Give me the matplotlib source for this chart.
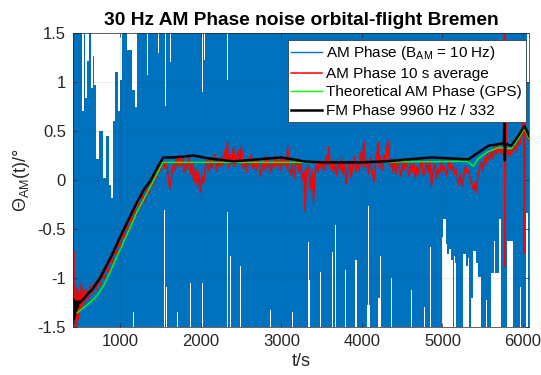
import matplotlib
matplotlib.use("Agg")
import matplotlib.pyplot as plt

# blue AM phase (B_AM = 10 Hz): upper / lower envelope of the noise band
blue_hi_t = [415, 527, 545, 565, 585, 615, 635, 660, 680, 700, 740, 790, 830, 860, 880,
             905, 930, 970, 995, 1020, 1090, 1150, 1185, 1210, 1330, 1345, 1470, 1480,
             1555, 1570, 1620, 1632, 2015, 2030, 2045, 2055, 2325, 2340, 6055, 6075]
blue_hi = [1.5, 0.70, 1.5, 0.84, 1.21, 1.5, 0.94, 1.27, 0.97, 0.21, 0.50, 0.02, 0.45, -0.05, -0.18,
           0.60, 1.10, 0.70, 1.02, 1.5, 1.33, 0.92, 0.74, 1.5, 1.07, 1.5, 1.30, 1.5,
           0.76, 1.5, 1.20, 1.5, 0.90, 1.5, 1.22, 1.5, 1.02, 1.5, 1.00, 1.00]

blue_lo_t = [415, 1160, 1172, 1545, 1557, 1568, 1580, 1705, 1715, 1868, 1880, 2016, 2028,
             2327, 2340, 2365, 2377, 2490, 2502, 2865, 2875, 3135, 3145, 3335, 3345, 3360,
             3485, 3497, 3633, 3645, 3672, 3684, 3785, 3797, 3920, 3935, 4060, 4075, 4085,
             4095, 4205, 4230, 4240, 4355, 4370, 4430, 4440, 4505, 4515, 4605, 4617, 4680,
             4690, 4718, 4727, 4770, 4780, 4843, 4852, 4998, 5010, 5040, 5060, 5075, 5085,
             5110, 5130, 5140, 5160, 5170, 5258, 5290, 5320, 5335, 5360, 5375, 5382, 5420,
             5445, 5482, 5540, 5555, 5607, 5640, 5655, 5700, 5730, 5806, 5880, 5965, 5975,
             6042, 6067, 6075]
blue_lo = [-1.5, -1.35, -1.5, -0.31, -1.5, -1.09, -1.5, -1.35, -1.5, -1.05, -1.5, -1.05, -1.5,
           -0.33, -1.5, -0.78, -1.5, -0.88, -1.5, -1.33, -1.5, -1.35, -1.5, -0.63, -1.02, -1.5,
           -0.94, -1.5, -0.73, -1.5, -0.46, -1.5, -0.92, -1.5, -0.82, -1.5, -1.28, -0.27, -1.28,
           -1.5, -1.20, -0.78, -1.5, -1.00, -1.5, -1.30, -1.5, -1.40, -1.5, -1.12, -1.5, -1.22,
           -1.5, -0.70, -1.5, -1.30, -1.5, -0.68, -1.5, -0.58, -0.40, -0.65, -0.75, -1.5, -0.70,
           -0.82, -1.5, -0.78, -0.85, -1.5, -0.75, -0.88, -0.80, -1.5, -1.20, -1.5, -0.72, -0.85,
           -0.99, -1.5, -1.22, -1.5, -0.95, -0.62, -0.95, -0.40, -1.5, -0.62, -1.5, -1.09, -1.5,
           -0.34, -1.5, -1.5]

# red: AM phase 10 s average
red_t = [415, 422, 430, 438, 446, 454, 462, 470, 480, 492, 505, 518, 532, 548, 565, 585, 605,
         630, 655, 680, 705, 730, 755, 780, 805, 830, 855, 880, 905, 930, 955, 980, 1005, 1030,
         1055, 1080, 1105, 1130, 1155, 1180, 1205, 1230, 1255, 1280, 1305, 1330, 1355, 1380,
         1405, 1430, 1455, 1480, 1505, 1530, 1555, 1575, 1595, 1615, 1635, 1655, 1675, 1695,
         1715, 1735, 1755, 1775, 1795, 1815, 1835, 1855, 1875, 1895, 1915, 1935, 1955, 1975,
         1995, 2015, 2035, 2055, 2075, 2095, 2115, 2135, 2155, 2175, 2195, 2215, 2235, 2255,
         2275, 2295, 2315, 2330, 2345, 2365, 2385, 2405, 2425, 2445, 2465, 2485, 2505, 2525,
         2545, 2565, 2585, 2605, 2625, 2645, 2665, 2685, 2705, 2725, 2745, 2765, 2785, 2805,
         2825, 2845, 2865, 2885, 2905, 2925, 2945, 2965, 2985, 3005, 3025, 3045, 3065, 3080,
         3100, 3120, 3140, 3160, 3180, 3200, 3220, 3240, 3260, 3280, 3295, 3310, 3330, 3350,
         3370, 3385, 3400, 3415, 3435, 3455, 3475, 3495, 3515, 3535, 3555, 3575, 3590, 3605,
         3625, 3645, 3665, 3685, 3705, 3725, 3745, 3765, 3785, 3805, 3825, 3845, 3865, 3885,
         3905, 3925, 3945, 3965, 3985, 4005, 4025, 4045, 4065, 4085, 4105, 4125, 4150, 4170,
         4190, 4200, 4215, 4235, 4255, 4275, 4295, 4310, 4325, 4345, 4365, 4385, 4405, 4425,
         4445, 4465, 4485, 4505, 4525, 4545, 4565, 4585, 4605, 4625, 4645, 4665, 4685, 4705,
         4725, 4745, 4765, 4785, 4805, 4825, 4845, 4865, 4885, 4905, 4925, 4945, 4965, 4985,
         5005, 5025, 5045, 5065, 5085, 5105, 5125, 5145, 5165, 5185, 5205, 5225, 5245, 5265,
         5285, 5305, 5325, 5345, 5365, 5385, 5405, 5420, 5440, 5460, 5480, 5500, 5520, 5540,
         5560, 5580, 5600, 5620, 5640, 5660, 5680, 5700, 5720, 5740, 5760, 5770, 5778, 5786,
         5795, 5815, 5835, 5855, 5875, 5895, 5915, 5935, 5955, 5975, 5995, 6008, 6017, 6026,
         6045, 6060, 6075]
red_v = [-1.45, -0.72, -1.38, -1.08, -1.50, -1.20, -1.48, -1.10, -1.42, -1.15, -1.33, -1.05,
         -1.28, -1.12, -1.25, -1.12, -1.22, -1.08, -1.16, -1.05, -1.12, -1.00, -1.08, -0.95,
         -1.00, -0.88, -0.94, -0.80, -0.84, -0.70, -0.76, -0.62, -0.68, -0.55, -0.58, -0.45,
         -0.52, -0.38, -0.42, -0.30, -0.36, -0.24, -0.28, -0.15, -0.22, -0.10, -0.14, -0.04,
         -0.06, 0.04, 0.02, 0.12, 0.10, 0.20, 0.12, 0.18, 0.05, -0.09, 0.02, 0.15, 0.10, 0.22,
         0.13, 0.25, 0.14, 0.22, 0.08, 0.18, 0.11, 0.24, 0.06, 0.16, -0.02, 0.12, -0.06, 0.08,
         -0.12, 0.04, -0.04, 0.14, 0.20, 0.09, 0.22, 0.12, 0.19, 0.26, 0.10, 0.20, 0.13, 0.24,
         0.15, 0.30, 0.18, 0.39, 0.12, 0.26, 0.16, 0.33, 0.14, 0.22, 0.30, 0.17, 0.34, 0.12,
         0.20, 0.08, 0.22, 0.15, 0.26, 0.12, 0.19, 0.10, 0.22, 0.14, 0.04, 0.18, 0.10, 0.25,
         0.13, 0.20, 0.08, 0.18, 0.12, 0.24, 0.14, 0.20, 0.10, 0.24, 0.15, 0.20, 0.12, 0.34,
         0.10, 0.05, 0.18, 0.02, 0.14, 0.22, 0.08, 0.16, 0.00, 0.10, -0.32, 0.06, 0.14, 0.04,
         -0.10, 0.10, -0.22, 0.05, 0.16, 0.08, 0.20, 0.12, 0.18, 0.10, 0.24, 0.14, 0.34, 0.12,
         0.20, 0.08, 0.16, 0.04, 0.18, 0.10, 0.22, 0.06, 0.16, -0.04, 0.12, 0.20, 0.02, 0.14,
         0.24, 0.08, 0.18, 0.10, 0.28, 0.14, 0.39, 0.12, 0.20, 0.06, 0.22, 0.10, -0.02, 0.16,
         0.28, 0.38, 0.12, 0.24, 0.10, 0.26, 0.18, 0.32, 0.40, 0.14, 0.22, 0.08, 0.18, 0.06,
         0.20, 0.12, 0.04, 0.18, 0.10, 0.20, 0.12, 0.04, 0.16, 0.08, 0.18, 0.02, 0.14, 0.06,
         0.16, 0.20, 0.04, 0.12, 0.18, 0.08, 0.20, -0.06, 0.10, 0.16, 0.02, 0.12, 0.06, 0.18,
         0.10, 0.14, 0.04, 0.12, 0.20, 0.10, 0.15, 0.06, 0.12, 0.02, -0.05, 0.06, -0.06, 0.04,
         0.14, 0.08, 0.10, 0.00, -0.04, -0.10, -0.02, -0.13, 0.04, 0.12, 0.18, 0.10, 0.22, 0.16,
         0.26, 0.20, 0.30, 0.22, 0.33, 0.26, 0.35, 0.28, 0.32, 0.26, 0.36, 1.50, -0.88, 1.20,
         0.28, 0.30, 0.24, 0.32, 0.28, 0.36, 0.30, 0.40, 0.35, 0.44, 0.48, 1.03, -0.75, 0.56,
         0.48, 0.42, 0.40]

# green: theoretical AM phase (GPS)
green_t = [460, 520, 600, 714, 800, 875, 950, 1050, 1212, 1374, 1530, 2000, 3000, 4000,
           4500, 5300, 5340, 5382, 5445, 5570, 5694, 5855, 5940, 6017, 6075]
green_v = [-1.36, -1.32, -1.27, -1.18, -1.07, -0.94, -0.80, -0.62, -0.32, -0.07, 0.18, 0.18,
           0.18, 0.18, 0.185, 0.19, 0.17, 0.14, 0.22, 0.29, 0.33, 0.32, 0.42, 0.52, 0.42]

# black: FM phase 9960 Hz / 332
black_t = [415, 420, 426, 432, 438, 445, 452, 460, 470, 485, 500, 550, 600, 650, 700, 750,
           800, 850, 900, 950, 1000, 1100, 1200, 1300, 1374, 1450, 1535, 1650, 1800, 1909,
           2100, 2407, 2700, 2992, 3150, 3280, 3500, 3739, 4000, 4300, 4573, 4860, 5100,
           5320, 5445, 5570, 5730, 5762, 5768, 5774, 5780, 5855, 5940, 6017, 6075]
black_v = [-1.46, -1.22, -1.42, -1.26, -1.38, -1.25, -1.33, -1.24, -1.30, -1.24, -1.25,
           -1.21, -1.16, -1.12, -1.06, -1.00, -0.92, -0.84, -0.76, -0.67, -0.58, -0.41,
           -0.24, -0.09, -0.01, 0.11, 0.23, 0.23, 0.24, 0.25, 0.22, 0.19, 0.21, 0.23, 0.21,
           0.19, 0.18, 0.18, 0.18, 0.19, 0.21, 0.23, 0.22, 0.21, 0.28, 0.35, 0.37, 0.37,
           0.60, 0.20, 0.37, 0.35, 0.45, 0.55, 0.45]

x_ticks = [1000, 2000, 3000, 4000, 5000, 6000]
y_ticks = [-1.5, -1, -0.5, 0, 0.5, 1, 1.5]
y_tick_labels = ["-1.5", "-1", "-0.5", "0", "0.5", "1", "1.5"]

plt.rcParams["font.family"] = ["Liberation Sans", "DejaVu Sans"]
plt.rcParams["mathtext.fontset"] = "custom"
plt.rcParams["mathtext.rm"] = "Liberation Sans"
plt.rcParams["mathtext.it"] = "Liberation Sans"

fig = plt.figure(figsize=(5.41, 3.75), dpi=100)
ax = fig.add_axes([0.135, 0.128, 0.843, 0.784])

ax.fill_between(blue_hi_t, blue_hi, -1.5, step="post", color="#0072BD", lw=0)
ax.fill_between(blue_lo_t, blue_lo, -1.5, step="post", color="white", lw=0)
ax.plot([], [], color="#0072BD", lw=1, label="AM Phase (B$_{\\rm AM}$ = 10 Hz)")
ax.plot(red_t, red_v, color="#FF0000", lw=1.1, label="AM Phase 10 s average")
ax.plot(green_t, green_v, color="#00FF00", lw=1, label="Theoretical AM Phase (GPS)")
ax.plot(black_t, black_v, color="black", lw=1.8, label="FM Phase 9960 Hz / 332")

ax.set_xlim(415, 6075)
ax.set_ylim(-1.5, 1.5)
ax.set_xticks(x_ticks)
ax.set_yticks(y_ticks)
ax.set_yticklabels(y_tick_labels)
ax.tick_params(direction="in", length=3, width=0.5, colors="#262626",
               labelsize=12, top=True, right=True, pad=5)
for s in ax.spines.values():
    s.set_color("#262626")
    s.set_linewidth(0.5)
ax.grid(True, color="#262626", alpha=0.12, lw=0.5)
ax.set_axisbelow(False)

ax.set_title("30 Hz AM Phase noise orbital-flight Bremen", fontsize=13.8,
             fontweight="bold", pad=6)
ax.set_xlabel("t/s", fontsize=13, color="#262626", labelpad=3)
ax.set_ylabel("Θ$_{\\rm AM}$(t)/°", fontsize=13, color="#262626", labelpad=4)

leg = ax.legend(loc="upper right", bbox_to_anchor=(1.0, 0.985), fontsize=11,
                fancybox=False, framealpha=1, edgecolor="#262626",
                handlelength=2.0, borderpad=0.25, labelspacing=0.3,
                handletextpad=0.3, borderaxespad=0.2)
leg.get_frame().set_linewidth(0.5)

fig.savefig("out.png", dpi=100)
